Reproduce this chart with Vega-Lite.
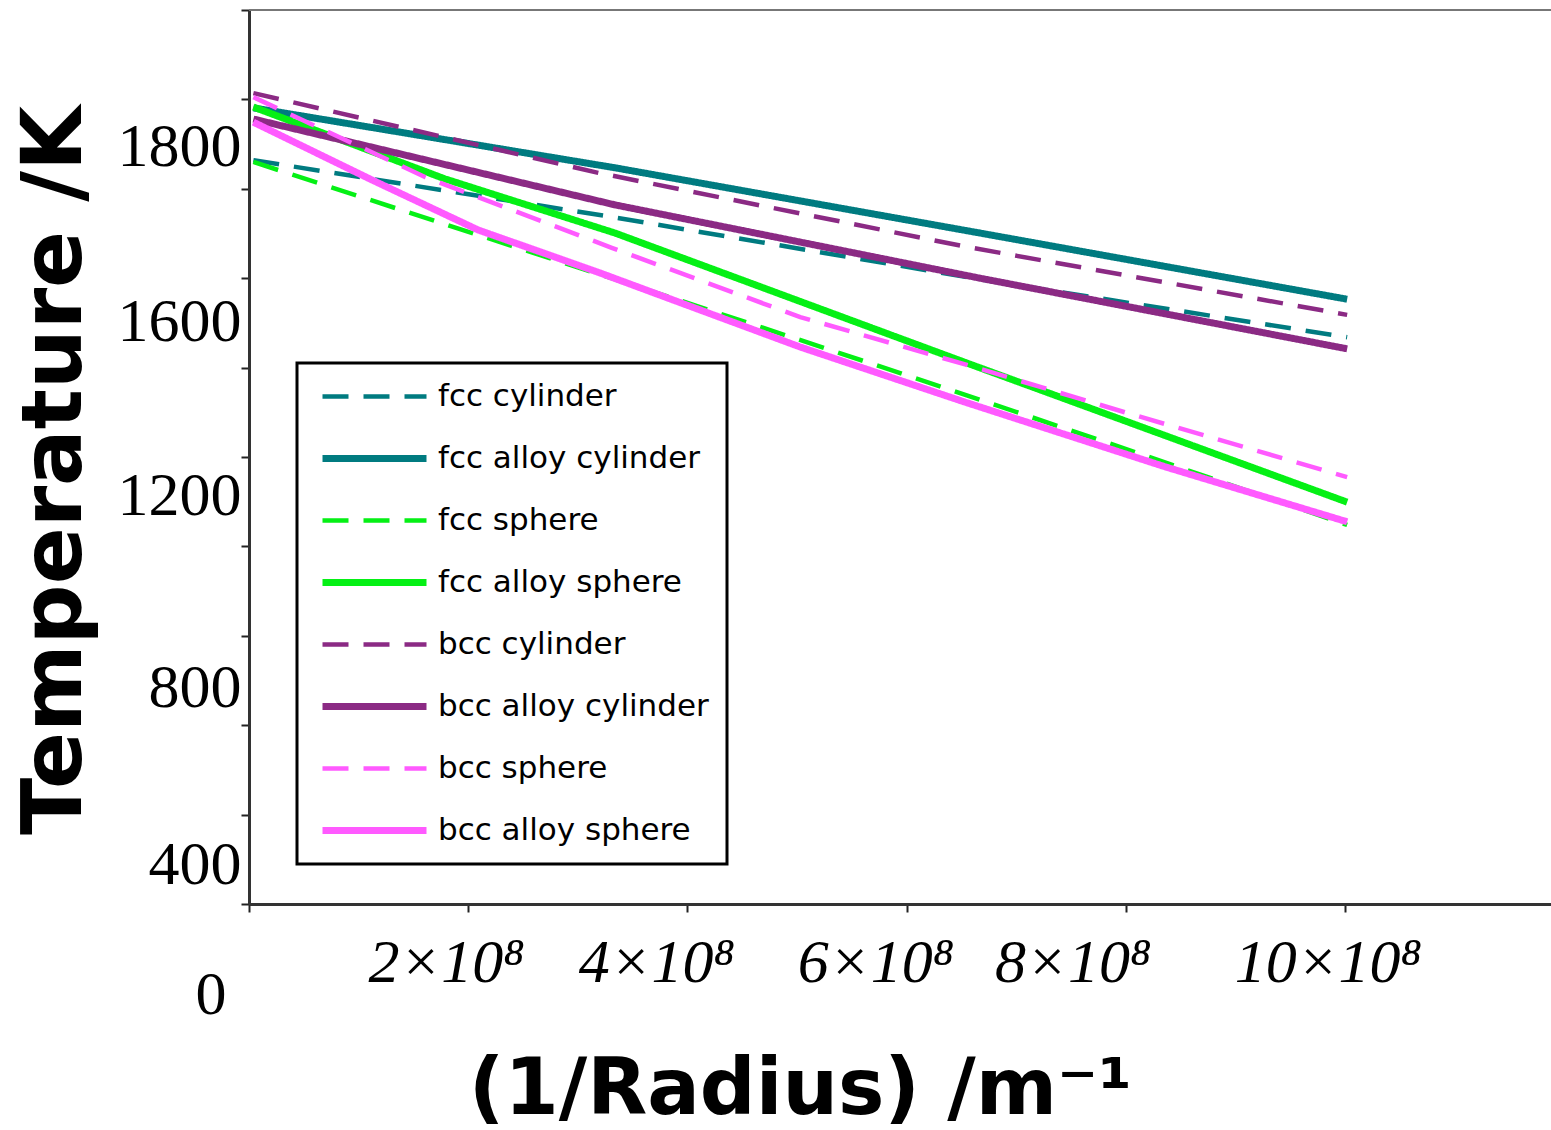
{
  "$schema": "https://vega.github.io/schema/vega-lite/v6.json",
  "width": 1302,
  "height": 894,
  "autosize": {"type": "none"},
  "padding": {"left": 249, "top": 10, "right": 0, "bottom": 226},
  "background": "white",
  "data": {
    "values": [
      {"series": "fcc cylinder", "x": 4000000, "t": 1864},
      {"series": "fcc cylinder", "x": 331000000, "t": 1737},
      {"series": "fcc cylinder", "x": 683000000, "t": 1591},
      {"series": "fcc cylinder", "x": 1002000000, "t": 1468},

      {"series": "fcc alloy cylinder", "x": 4000000, "t": 1981},
      {"series": "fcc alloy cylinder", "x": 334000000, "t": 1847},
      {"series": "fcc alloy cylinder", "x": 667000000, "t": 1701},
      {"series": "fcc alloy cylinder", "x": 1002000000, "t": 1553},

      {"series": "fcc sphere", "x": 4000000, "t": 1860},
      {"series": "fcc sphere", "x": 215000000, "t": 1692},
      {"series": "fcc sphere", "x": 411000000, "t": 1536},
      {"series": "fcc sphere", "x": 600000000, "t": 1383},
      {"series": "fcc sphere", "x": 781000000, "t": 1234},
      {"series": "fcc sphere", "x": 1002000000, "t": 1048},

      {"series": "fcc alloy sphere", "x": 4000000, "t": 1983},
      {"series": "fcc alloy sphere", "x": 179000000, "t": 1822},
      {"series": "fcc alloy sphere", "x": 334000000, "t": 1701},
      {"series": "fcc alloy sphere", "x": 653000000, "t": 1412},
      {"series": "fcc alloy sphere", "x": 1002000000, "t": 1099},

      {"series": "bcc cylinder", "x": 4000000, "t": 2014},
      {"series": "bcc cylinder", "x": 320000000, "t": 1835},
      {"series": "bcc cylinder", "x": 655000000, "t": 1670},
      {"series": "bcc cylinder", "x": 1002000000, "t": 1518},

      {"series": "bcc alloy cylinder", "x": 4000000, "t": 1956},
      {"series": "bcc alloy cylinder", "x": 334000000, "t": 1764},
      {"series": "bcc alloy cylinder", "x": 667000000, "t": 1600},
      {"series": "bcc alloy cylinder", "x": 1002000000, "t": 1442},

      {"series": "bcc sphere", "x": 4000000, "t": 2005},
      {"series": "bcc sphere", "x": 161000000, "t": 1826},
      {"series": "bcc sphere", "x": 331000000, "t": 1668},
      {"series": "bcc sphere", "x": 503000000, "t": 1513},
      {"series": "bcc sphere", "x": 655000000, "t": 1406},
      {"series": "bcc sphere", "x": 802000000, "t": 1298},
      {"series": "bcc sphere", "x": 1002000000, "t": 1155},

      {"series": "bcc alloy sphere", "x": 4000000, "t": 1949},
      {"series": "bcc alloy sphere", "x": 112000000, "t": 1820},
      {"series": "bcc alloy sphere", "x": 209000000, "t": 1708},
      {"series": "bcc alloy sphere", "x": 320000000, "t": 1612},
      {"series": "bcc alloy sphere", "x": 503000000, "t": 1446},
      {"series": "bcc alloy sphere", "x": 653000000, "t": 1323},
      {"series": "bcc alloy sphere", "x": 836000000, "t": 1178},
      {"series": "bcc alloy sphere", "x": 1002000000, "t": 1055}
    ]
  },
  "layer": [
    {
      "mark": {"type": "rule", "color": "#777777", "strokeWidth": 2},
      "encoding": {"y": {"datum": 2200}}
    },
    {
      "mark": {"type": "line", "strokeCap": "butt", "clip": true},
      "encoding": {
        "x": {
          "field": "x",
          "type": "quantitative",
          "scale": {"domain": [0, 1188000000], "nice": false, "zero": false},
          "axis": {
            "values": [0, 200000000, 400000000, 600000000, 800000000, 1000000000],
            "labelExpr": "datum.value == 0 ? '' : (datum.value / 100000000) + '×10⁸'",
            "labelFont": "Liberation Serif",
            "labelFontStyle": "italic",
            "labelFontSize": 62,
            "labelAlign": "center",
            "labelBaseline": "alphabetic",
            "labelPadding": 69,
            "labelLimit": 400,
            "labelFlush": false,
            "labelOverlap": false,
            "labelOffset": {
              "condition": [
                {"test": "datum.value == 200000000", "value": -22},
                {"test": "datum.value == 400000000", "value": -31},
                {"test": "datum.value == 600000000", "value": -31},
                {"test": "datum.value == 800000000", "value": -53},
                {"test": "datum.value == 1000000000", "value": -17}
              ],
              "value": 0
            },
            "title": "(1/Radius) /m⁻¹",
            "titleFont": "DejaVu Sans",
            "titleFontWeight": "bold",
            "titleFontSize": 78,
            "titleAlign": "center",
            "titleBaseline": "alphabetic",
            "titleX": 551,
            "titleY": 209
          }
        },
        "y": {
          "field": "t",
          "type": "quantitative",
          "scale": {"domain": [200, 2200], "nice": false, "zero": false},
          "axis": {
            "values": [200, 400, 600, 800, 1000, 1200, 1400, 1600, 1800, 2000, 2200],
            "labelExpr": "datum.value == 2000 ? '1800' : datum.value == 1600 ? '1600' : datum.value == 1200 ? '1200' : datum.value == 800 ? '800' : datum.value == 400 ? '400' : datum.value == 200 ? '0' : ''",
            "labelFont": "Liberation Serif",
            "labelFontSize": 62,
            "labelBaseline": "middle",
            "labelAlign": "right",
            "labelOverlap": false,
            "labelFlush": false,
            "labelOffset": {
              "condition": [
                {"test": "datum.value == 2000", "value": 47},
                {"test": "datum.value == 1600", "value": 43},
                {"test": "datum.value == 1200", "value": 38},
                {"test": "datum.value == 800", "value": 52},
                {"test": "datum.value == 400", "value": 50},
                {"test": "datum.value == 200", "value": 90}
              ],
              "value": 0
            },
            "labelPadding": {"condition": {"test": "datum.value == 200", "value": 15}, "value": 0},
            "title": "Temperature /K",
            "titleFont": "DejaVu Sans",
            "titleFontWeight": "bold",
            "titleFontSize": 84,
            "titleAngle": 270,
            "titleAlign": "center",
            "titleBaseline": "middle",
            "titleX": -194,
            "titleY": 460
          }
        },
        "color": {
          "field": "series",
          "type": "nominal",
          "scale": {
            "domain": ["fcc cylinder", "fcc alloy cylinder", "fcc sphere", "fcc alloy sphere", "bcc cylinder", "bcc alloy cylinder", "bcc sphere", "bcc alloy sphere"],
            "range": ["#007B80", "#007B80", "#05F015", "#05F015", "#8B2A84", "#8B2A84", "#FF5AFF", "#FF5AFF"]
          }
        },
        "strokeDash": {
          "field": "series",
          "type": "nominal",
          "scale": {
            "domain": ["fcc cylinder", "fcc alloy cylinder", "fcc sphere", "fcc alloy sphere", "bcc cylinder", "bcc alloy cylinder", "bcc sphere", "bcc alloy sphere"],
            "range": [[26, 15], [1, 0], [26, 15], [1, 0], [26, 15], [1, 0], [26, 15], [1, 0]]
          }
        },
        "strokeWidth": {
          "field": "series",
          "type": "nominal",
          "scale": {
            "type": "ordinal",
            "domain": ["fcc cylinder", "fcc alloy cylinder", "fcc sphere", "fcc alloy sphere", "bcc cylinder", "bcc alloy cylinder", "bcc sphere", "bcc alloy sphere"],
            "range": [4.5, 7, 4.5, 7, 4.5, 7, 4.5, 7]
          }
        }
      }
    }
  ],
  "config": {
    "view": {"stroke": null},
    "axis": {
      "grid": false,
      "domainColor": "#333333",
      "domainWidth": 3,
      "tickColor": "#222222",
      "tickWidth": 2,
      "tickSize": 8,
      "labelColor": "black",
      "titleColor": "black"
    },
    "legend": {
      "orient": "none",
      "legendX": 48,
      "legendY": 353,
      "title": null,
      "symbolType": "M-5.2,0H5.2",
      "symbolSize": 400,
      "symbolOffset": 44,
      "labelOffset": 48,
      "labelFont": "DejaVu Sans",
      "labelFontSize": 31,
      "labelColor": "black",
      "labelLimit": 400,
      "rowPadding": 30,
      "padding": 18,
      "strokeColor": "black",
      "strokeWidth": 3,
      "fillColor": "white"
    }
  }
}
